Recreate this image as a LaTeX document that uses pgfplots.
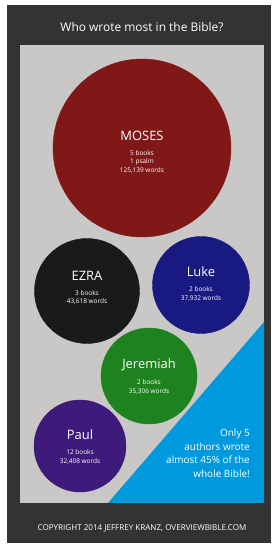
\documentclass[border=0pt]{standalone}
\usepackage{fontspec}
\setmainfont{Open Sans}
\usepackage{pgfplots}
\pgfplotsset{compat=1.18}
\definecolor{frame}{RGB}{51,51,51}
\definecolor{panel}{RGB}{201,200,198}
\definecolor{moses}{RGB}{128,24,24}
\definecolor{ezra}{RGB}{26,26,26}
\definecolor{luke}{RGB}{24,26,130}
\definecolor{jer}{RGB}{30,130,30}
\definecolor{paul}{RGB}{62,26,122}
\definecolor{skyb}{RGB}{0,153,221}
\begin{document}
\begin{tikzpicture}
\begin{axis}[width=272bp,height=544bp,scale only axis,set layers,
  xmin=0,xmax=272,ymin=0,ymax=544,y dir=reverse,hide axis,clip=true]
\addplot[fill=white,draw=none] coordinates {(0,0)(272,0)(272,544)(0,544)} -- cycle;
\addplot[fill=frame,draw=none] coordinates {(7,5)(271,5)(271,543)(7,543)} -- cycle;
\addplot[fill=panel,draw=none] coordinates {(20,45)(264,45)(264,503)(20,503)} -- cycle;
\addplot[fill=skyb,draw=none] coordinates {(108,503)(264,322)(264,503)} -- cycle;
% circles: x, y, radius
\addplot[color=moses,only marks,mark=*,mark size=89bp] coordinates {(142,148)};
\addplot[color=ezra,only marks,mark=*,mark size=52.5bp] coordinates {(87,291)};
\addplot[color=luke,only marks,mark=*,mark size=48.5bp] coordinates {(201,285)};
\addplot[color=jer,only marks,mark=*,mark size=48bp] coordinates {(149,376)};
\addplot[color=paul,only marks,mark=*,mark size=46bp] coordinates {(80,446)};
% texts
\tikzset{big/.style={text=white,inner sep=0pt,font=\fontsize{13}{13}\selectfont},
  small/.style={text=white,inner sep=0pt,font=\fontsize{6.5}{6.5}\selectfont}}
\begin{pgfonlayer}{axis foreground}
\node[text=white,inner sep=0pt,font=\fontsize{12}{12}\selectfont] at (axis cs:142,27) {Who wrote most in the Bible?};
\node[big] at (axis cs:142,136) {MOSES};
\node[small] at (axis cs:142,153) {5 books};
\node[small] at (axis cs:142,162) {1 psalm};
\node[small] at (axis cs:142,170) {125,139 words};
\node[big] at (axis cs:87,276) {EZRA};
\node[small] at (axis cs:87,293) {3 books};
\node[small] at (axis cs:87,301) {43,618 words};
\node[big] at (axis cs:201,272) {Luke};
\node[small] at (axis cs:201,289) {2 books};
\node[small] at (axis cs:201,298) {37,932 words};
\node[big] at (axis cs:149,365) {Jeremiah};
\node[small] at (axis cs:149,382) {2 books};
\node[small] at (axis cs:149,391) {35,306 words};
\node[big] at (axis cs:80,435) {Paul};
\node[small] at (axis cs:80,452) {12 books};
\node[small] at (axis cs:80,461) {32,408 words};
\node[text=white,inner sep=0pt,anchor=east,align=right,font=\fontsize{10}{13.6}\selectfont] at (axis cs:250,453.5) {Only 5\\authors wrote\\almost 45\% of the\\whole Bible!};
\node[text=white,inner sep=0pt,font=\fontsize{8.1}{8.1}\selectfont] at (axis cs:142,528) {COPYRIGHT 2014 JEFFREY KRANZ, OVERVIEWBIBLE.COM};
\end{pgfonlayer}
\end{axis}
\end{tikzpicture}
\end{document}
